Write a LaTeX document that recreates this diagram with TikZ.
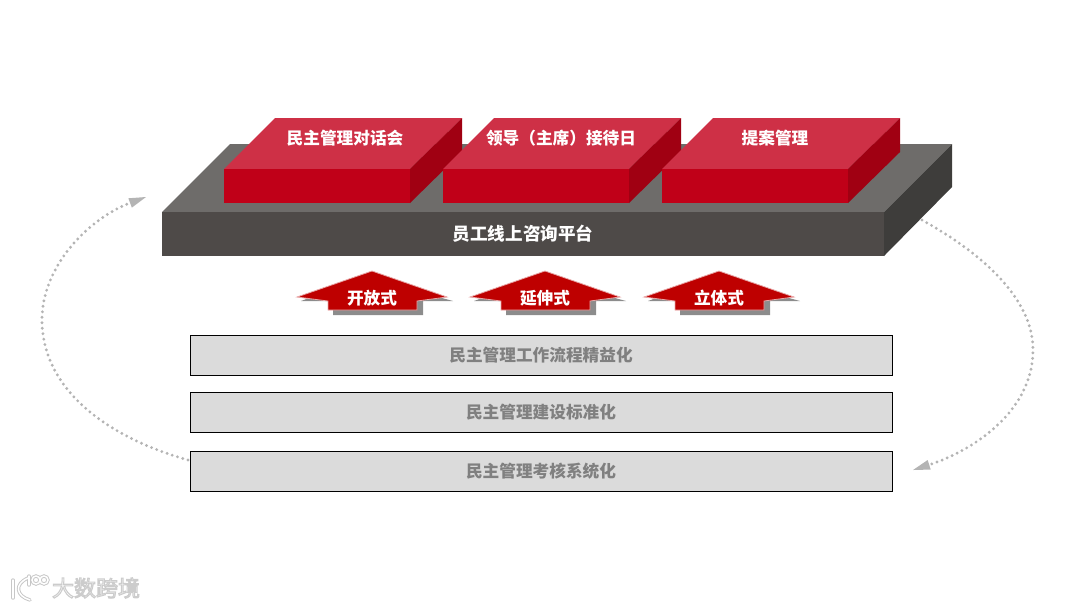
\documentclass[tikz,border=0pt]{standalone}
\usepackage{fontspec}
\newfontfamily\cjk{Noto Sans CJK SC}
\usetikzlibrary{arrows.meta}
\def\px{0.75pt}
\definecolor{redfront}{HTML}{C00018}
\definecolor{redtop}{HTML}{CE3046}
\definecolor{redside}{HTML}{A00012}
\definecolor{slatefront}{HTML}{4E4A48}
\definecolor{slatetop}{HTML}{6E6C6A}
\definecolor{slateside}{HTML}{3E3D3B}
\definecolor{arrowred}{HTML}{BE0000}
\definecolor{loopgrey}{HTML}{B4B4B4}
\tikzset{
  label14/.style={font=\cjk\bfseries\fontsize{12.5}{14}\selectfont, text=white, inner sep=0pt},
  listbox/.style={draw=black, line width=0.6pt, fill=black!14, minimum width=702*\px, minimum height=40*\px,
    outer sep=0pt, inner sep=0pt, font=\cjk\bfseries\fontsize{12.5}{14}\selectfont, text=black!50},
  loopline/.style={loopgrey, line width=3.2*\px, line cap=round, dash pattern=on 0pt off 5.5*\px,
    -{Triangle[length=17*\px,width=10*\px,line width=0pt,round=false]}},
  markstroke/.style={black!22, line width=3.4*\px, line cap=round},
  markcore/.style={white, line width=1.5*\px, line cap=round}
}
\begin{document}
\begin{tikzpicture}[x=\px,y=-\px]
\useasboundingbox (0,0) rectangle (1080,608);

% platform
\fill[slatetop] (162,212) -- (230,144) -- (952,144) -- (884,212) -- cycle;
\fill[slateside] (884,212) -- (952,144) -- (952,187) -- (884,256) -- cycle;
\node[fill=slatefront, minimum width=722*\px, minimum height=44*\px, outer sep=0pt, inner sep=0pt] (pingtai) at (523,234) {};
\node[label14, font=\cjk\bfseries\fontsize{13.2}{14}\selectfont] (pingtaitext) at (523,234) {员工线上咨询平台};

% three red blocks
\foreach \bx/\tx/\bname/\btxt in {224/345/duihua/民主管理对话会, 443/561/jiedai/领导（主席）接待日, 662/775/tian/提案管理}{
  \fill[redtop] (\bx,169) -- (\bx+51,118) -- (\bx+238,118) -- (\bx+186,169) -- cycle;
  \fill[redside] (\bx+186,169) -- (\bx+238,118) -- (\bx+238,152) -- (\bx+186,203) -- cycle;
  \fill[redfront] (\bx,169) rectangle (\bx+186,203);
  \node[label14] (\bname) at (\tx,138) {\btxt};
}

% up arrows
\foreach \ax/\aname/\atxt in {0/kaifang/开放式, 173/yanshen/延伸式, 347/liti/立体式}{
  \begin{scope}[shift={(\ax,0)}]
    \fill[black!45] (301,301) -- (333,301) -- (333,315) -- (423,315) -- (423,301) -- (453,301) -- (420,292) -- (325,292) -- cycle;
    \draw[arrowred!35!white, fill=arrowred, line width=0.8*\px, line join=miter]
      (372,271) -- (447,297) -- (417,301) -- (417,310) -- (328,310) -- (328,301) -- (297,297) -- cycle;
    \node[label14] (\aname) at (372,298) {\atxt};
  \end{scope}
}

% three grey bars
\node[listbox] (liucheng) at (541,355) {民主管理工作流程精益化};
\node[listbox] (biaozhun) at (541,412.5) {民主管理建设标准化};
\node[listbox] (kaohe) at (541,471) {民主管理考核系统化};

% loop round the bars
\draw[loopline] ([shift={(-2,-11)}]kaohe.west) .. controls (100,435) and (42,385) .. (42,320)
  .. controls (42,265) and (90,218) .. ([shift={(-16,-15)}]pingtai.north west);
\draw[loopline] ([shift={(38,8)}]pingtai.north east) .. controls (985,255) and (1033,300) .. (1033,350)
  .. controls (1033,410) and (975,450) .. ([shift={(21,-1)}]kaohe.east);

% mark in the corner
\foreach \sty in {markstroke,markcore}{
  \draw[\sty] (13,580) -- (13,598);
  \draw[\sty] (28,578) .. controls (14,584) and (16,596) .. (30,600);
  \draw[\sty] (29,576) -- (29,585);
  \draw[\sty] (36,580) circle (4);
  \draw[\sty] (44,580) circle (4);
}
\node[font=\cjk\fontsize{16.5}{18}\selectfont, text=white, inner sep=0pt] (shuiyin) at (96,588)
  {\special{pdf:code q 2 Tr 0.8 w 0.8 G 1 g}大数跨境\special{pdf:code Q}};
\end{tikzpicture}
\end{document}
